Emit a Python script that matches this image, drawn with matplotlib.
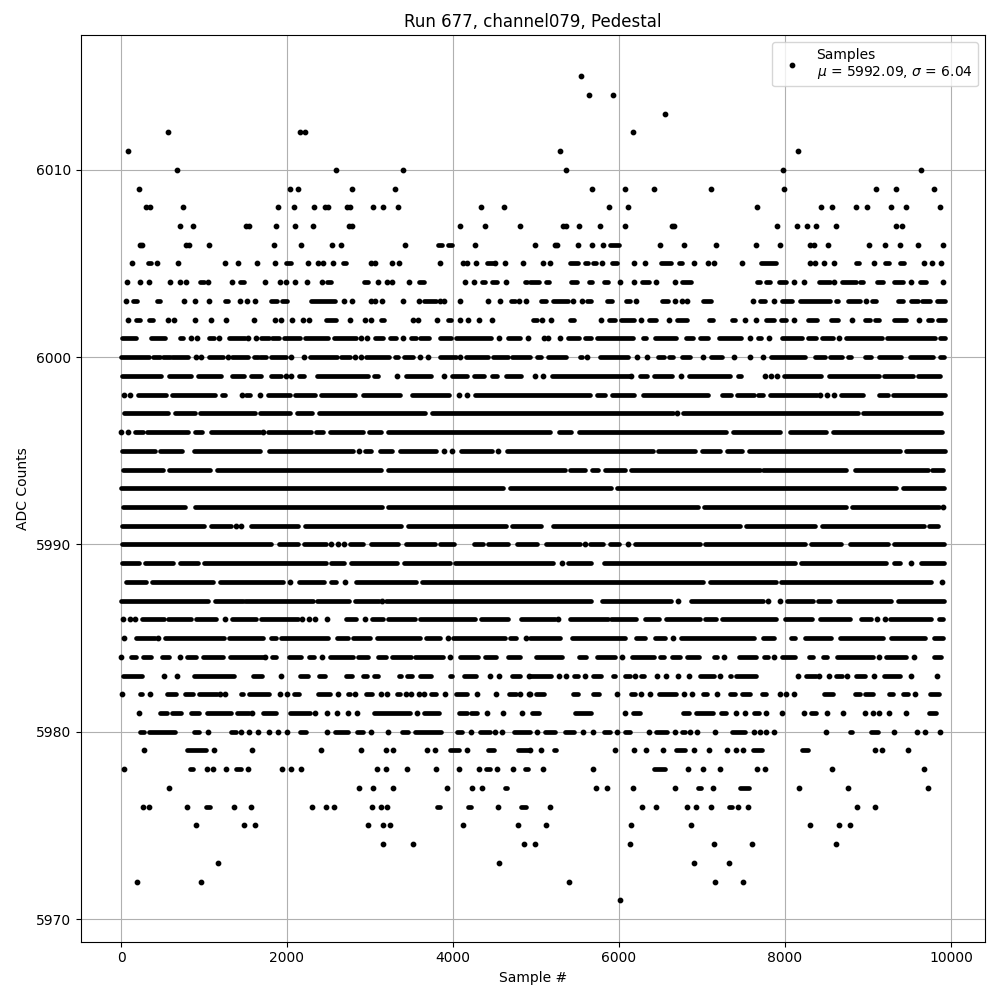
import matplotlib
matplotlib.use("Agg")
import matplotlib.pyplot as plt

# sample positions, one list per ADC level
# a plain number is a single dot, a pair is a stretch where the dots merge into a solid bar
lv_6015 = [5541]
lv_6014 = [5637, 5926]
lv_6013 = [6553]
lv_6012 = [564, 2155, 2215, 6167]
lv_6011 = [82, 5288, 8156]
lv_6010 = [673, 2589, 3397, 5360, 7975, 9638]
lv_6009 = [215, 2035, 2131, 2781, 3299, 5673, 6071, 6420, 7107, 7987, 9096, 9337, 9795]
lv_6008 = [299, 355, 745, 1890, 2083, 2324, 2452, 2492, 2725, 2762, 3035, 3155, 3336, 4336, 4613,
           5878, 6107, 7662, 8433, 8566, 8855, 8987, 9277, 9457, 9867]
lv_6007 = [709, 866, 1508, 1540, 1866, 2095, 2312, 2745, 2786, 4084, 4385, 4806, 5324, 5356, 5517,
           5770, 6071, 6633, 6657, 7903, 8144, 8264, 8373, 8614, 9337, 9409]
lv_6006 = [223, 255, 785, 817, 1059, 1841, 2167, 2541, 2649, 3420, (3814, 3862), (3944, 3985), 4264,
           4986, 5235, 5259, 5504, 5673, 5806, (5886, 5999), 6493, 6782, 7168, 7650, 7939, 8296, 8349,
           8517, 9011, 9204, 9385, 9602, 9903]
lv_6005 = [131, (327, 367), 432, 685, 1251, 1408, 1637, 1854, (1986, 2047), 2252, 2373, 2433, 2553,
           (2673, 2714), 3007, 3059, 3264, 3348, 3842, 4119, 4167, 4276, (4408, 4481), 4505, 4625, 4842,
           5083, 5167, (5404, 5504), (5585, 5625), (5685, 5725), 5794, (5914, 5974), 6179, 6312,
           (6505, 6629), (6722, 6762), 6902, 7071, 7143, 7481, (7706, 7895), 8296, 8361, 8469, 8590,
           (8859, 8891), 9072, (9204, 9252), (9381, 9437), 9674, 9771, 9879]
lv_6004 = [70, 227, 335, 588, 709, 785, (950, 994), 1046, 1336, (1428, 1476), 1733, 1914, 1994, 2095,
           2240, 2421, (2485, 2528), (2922, 2974), 3095, 3203, 3264, 3469, (3585, 3649), 4143, 4252,
           (4352, 4385), (4473, 4529), 4637, (4862, 4895), (4922, 5042), (5115, 5155), (5424, 5492),
           (5637, 5677), (5814, 5870), 6011, 6179, (6276, 6360), 6444, 6673, (6762, 6870), (7662, 7702),
           (7774, 7822), (7923, 8007), 8107, 8228, (8409, 8537), 8590, (8686, 8851), (8907, 8939),
           (9108, 9180), (9309, 9421), 9518, (9630, 9694), 9903]
lv_6003 = [58, (143, 191), (436, 468), 757, 894, 1059, (1251, 1287), 1432, 1516, 1613, (1810, 1878),
           (1934, 2002), (2288, 2577), 2685, 2781, 3007, 3059, 3143, 3397, 3589, (3649, 3798), 3846, 3886,
           4084, 4420, 4565, (4702, 4742), 4794, 4879, (5055, 5115), (5203, 5384), 5444, 5553,
           (5613, 5661), (5858, 5914), (6079, 6127), 6199, (6513, 6589), 6673, 6754, 6818, (7011, 7107),
           7613, (7694, 7758), 7866, (7967, 8087), (8184, 8537), (8618, 8642), (8758, 8899), 8979,
           (9052, 9100), (9361, 9421), (9521, 9602), (9654, 9742), (9831, 9923)]
lv_6002 = [82, (183, 231), (339, 384), 564, 641, 894, 1083, 1263, 1601, 1854, 1926, 2059, 2192, 2264,
           (2465, 2585), 2757, 2941, 3011, (3135, 3167), 3517, 3577, 3806, (3938, 3970), 4084, 4180, 4313,
           4470, (4970, 5018), 5075, 5179, (5404, 5454), 5782, (5878, 5946), (6027, 6175), 6264,
           (6360, 6440), 6601, (6697, 6818), (7083, 7131), (7356, 7392), 7517, 7650, (7774, 7862),
           (7955, 8015), 8107, (8276, 8385), (8557, 8638), 8811, (8959, 9019), (9084, 9132), (9317, 9461),
           9614, (9722, 9771), (9843, 9931)]
lv_6001 = [(14, 175), (364, 536), (705, 753), 841, 914, (1059, 1119), 1179, (1303, 1488), 1528, 1625,
           (1685, 1781), (1818, 1898), (1958, 2151), (2215, 2493), (2569, 2834), 2894, 2958, (3055, 3155),
           (3236, 3308), 3397, (3497, 3549), (3605, 3705), (3846, 3978), (4031, 4461), 4553, (4658, 4810),
           4903, 5091, 5143, 5292, (5384, 5517), (5585, 5665), (5737, 6167), (6288, 6328), (6432, 6689),
           (6810, 6890), (6971, 7071), (7204, 7473), 7573, (7674, 7706), 7806, (7963, 8208), (8276, 8369),
           (8449, 8578), 8650, (8738, 9172), (9228, 9803), (9863, 9923)]
lv_6000 = [(0, 335), (384, 464), (504, 585), (617, 805), 906, 958, (1066, 1227), 1287, (1340, 1528),
           (1601, 1649), (1669, 1749), (1810, 1982), 2047, 2204, (2280, 2601), (2649, 2761), 2818, 2886,
           (2954, 3235), (3296, 3336), (3404, 3517), 3601, 3697, (3838, 4031), 4080, (4160, 4421),
           (4481, 4662), (4714, 4923), (5010, 5063), (5143, 5364), (5525, 5557), 5613, (5766, 6107), 6215,
           6336, (6468, 6537), (6601, 6649), (6762, 6858), 7015, (7111, 7236), 7384, 7577, 7734,
           (7834, 8236), (8357, 8477), (8545, 8690), (8758, 8798), (8959, 9040), (9132, 9401), (9501, 9783),
           (9863, 9915)]
lv_5999 = [(6, 480), (576, 842), (930, 1203), (1340, 1476), (1569, 1685), (1810, 1926), 1986, 2047,
           (2143, 2200), (2364, 2971), (3051, 3091), 3328, (3437, 3734), 3890, (3991, 4168), (4252, 4376),
           (4473, 4529), (4642, 4818), 4994, 5083, (5187, 6127), 6147, (6248, 6336), (6416, 6641), 6750,
           (6842, 7332), (7429, 7469), 7758, 7830, 7903, (7983, 8433), (8529, 9132), (9196, 9542),
           (9606, 9863)]
lv_5998 = [42, 111, (203, 544), (617, 1127), (1215, 1251), 1460, (1508, 1556), 1669, (1773, 2031),
           (2095, 2332), (2408, 2818), (2914, 3356), (3509, 3950), 4071, 4168, (4264, 5645), (5737, 5830),
           (5918, 6183), (6288, 7071), (7244, 7348), (7421, 7621), (7670, 7734), (7814, 8385), 8425, 8505,
           8594, (8674, 8939), (9132, 9240), (9301, 9923)]
lv_5997 = [(34, 564), (649, 886), (954, 1609), (1677, 2039), (2119, 2296), (2384, 3661), (3750, 6649),
           6693, (6770, 8879), (8939, 9883)]
lv_5996 = [2, 82, (163, 263), (315, 805), (886, 978), (1087, 1669), 1709, (1769, 2292), (2344, 2433),
           (2513, 2914), (2994, 3135), (3215, 5163), (5275, 5424), (5516, 7292), (7372, 7943), (8063, 8497),
           (8578, 9895)]
lv_5995 = [(14, 404), (472, 737), (874, 1669), (1781, 2793), 2866, (2934, 3011), (3115, 3268),
           (3364, 3798), 3890, 3987, (4098, 4473), 4545, (4650, 6408), (6468, 6910), (7003, 7212),
           (7300, 7485), (7565, 9381), (9453, 9923)]
lv_5994 = [(22, 504), (577, 1067), (1155, 3129), (3220, 5344), (5412, 5585), (5677, 5745), (5830, 6067),
           (6147, 7694), (7734, 8738), (8839, 9722), (9775, 9903)]
lv_5993 = [(0, 4601), (4690, 5906), (5978, 9341), (9421, 9911)]
lv_5992 = [(22, 777), (890, 3147), (3220, 6950), (7027, 8730), (8810, 9855), 9903]
lv_5991 = [(10, 1006), (1083, 1327), 1380, 1448, (1569, 2135), (2215, 3376), (3457, 4633), (4714, 5063),
           (5203, 7461), (7525, 8361), (8449, 9678), (9734, 9846)]
lv_5990 = [(14, 1809), (1902, 2127), (2207, 2473), 2533, 2617, 2685, (2761, 2914), (3015, 3336),
           (3436, 3778), (3846, 4018), (4248, 4360), (4420, 4662), (4770, 5010), (5115, 5525), 5585,
           (5645, 5806), (5894, 5999), 6107, (6191, 6971), (7031, 8236), (8316, 8678), (8786, 9240),
           (9316, 9915)]
lv_5989 = [(14, 215), (287, 632), (713, 926), (1006, 2473), (2533, 2685), (2773, 3324), (3404, 3958),
           (4020, 5203), 5312, (5384, 5665), (5814, 8115), (8196, 9220), (9316, 9381), 9513, (9642, 9915)]
lv_5988 = [(62, 303), (376, 1107), (1195, 1950), 2039, (2139, 2441), (2533, 2593), 2693, (2834, 3554),
           (3629, 7011), (7099, 7895), (7955, 9762), 9887]
lv_5987 = [(0, 1046), (1135, 1468), (1496, 2312), (2360, 2753), (2818, 3108), 3149, (3195, 5665),
           (5798, 6629), 6710, (6866, 7734), 7794, 7935, (8023, 8336), (8397, 8537), (8638, 9280), (9361, 9915)]
lv_5986 = [22, 103, 163, (255, 524), (564, 846), (906, 1147), 1251, (1340, 1629), (1689, 2131), 2175, 2264,
           2332, 2484, (2713, 2826), 2942, (3027, 3155), (3215, 3537), (3597, 4260), (4340, 4662),
           (4822, 5235), 5263, (5412, 5866), (5906, 6207), (6308, 6481), (6569, 6971), (7031, 7171),
           (7244, 7895), (7995, 8328), (8417, 8778), (8919, 9040), 9108, 9200, (9260, 9762), (9855, 9903)]
lv_5985 = [34, (175, 404), 444, (532, 1235), (1307, 1709), (1810, 1862), (1930, 2493), (2601, 2733),
           (2793, 3003), (3083, 3605), (3678, 3838), 3938, (3998, 4621), (4690, 4762), 4883, (4922, 5292),
           (5436, 6067), (6207, 6308), (6428, 6549), 6649, (6750, 7621), (7734, 7862), (8075, 8115),
           (8236, 8557), (8658, 9180), (9280, 9682), (9791, 9903)]
lv_5984 = [0, (123, 175), (263, 364), (492, 576), 709, (793, 898), (986, 1227), (1316, 1709), 1737,
           (1822, 1870), (2022, 2171), (2260, 2320), 2425, (2513, 2793), (2854, 2974), (3095, 3195),
           (3268, 3497), (3537, 3878), 3963, (4080, 4300), (4380, 4521), (4662, 4810), (5002, 5312),
           (5516, 5597), (5741, 5946), 6035, (6159, 6416), (6489, 6537), (6641, 6730), (6818, 6963),
           (7139, 7180), 7268, (7445, 7646), (7746, 7798), 7866, (7967, 8115), (8288, 8336), (8457, 8505),
           (8626, 9060), 9132, (9220, 9461), 9554, (9791, 9883)]
lv_5983 = [(22, 255), 516, 673, (877, 1356), (1589, 1701), 1926, (2159, 2252), (2384, 2453), (2713, 2785),
           (2914, 2962), (3043, 3099), (3344, 3376), (3445, 3509), (3605, 3738), (3958, 3990), (4127, 4280),
           4445, 4553, (4714, 4810), 4910, (4922, 5183), 5283, 5364, (5456, 5504), 5589, (5685, 5786),
           (5926, 5958), (6067, 6127), 6195, (6268, 6296), 6457, 6565, 6710, 6842, (6979, 7139), 7216,
           (7332, 7352), (7404, 7654), 8156, (8256, 8369), 8409, 8529, (8618, 8690), 8746, (8859, 8959),
           9072, (9188, 9389), 9521, 9831]
lv_5982 = [10, (223, 255), 347, (552, 657), (777, 866), (938, 1155), 1195, 1251, (1444, 1468), (1548, 1789),
           1914, 2003, (2079, 2139), (2372, 2513), 2613, (2733, 2761), 2818, (2954, 3027), 3131, 3203,
           (3324, 3364), 3437, 3497, 3589, 3649, (3738, 3790), 3906, (4031, 4168), 4288, 4517, (4674, 4762),
           4810, 4910, 4930, (5002, 5091), (5444, 5504), (5685, 5758), 5974, (6147, 6195), 6260, 6372,
           (6481, 6690), 6782, 6878, (7011, 7059), 7184, (7340, 7392), (7485, 7573), (7718, 7774), 7939,
           8011, 8107, (8465, 8578), (8847, 8899), (8967, 9060), (9252, 9301), (9421, 9485), 9570, (9742, 9855)]
lv_5981 = [215, (464, 560), (609, 725), (846, 934), (1035, 1327), (1396, 1548), 1577, (1709, 1870),
           (2031, 2272), 2336, 2481, 2601, 2733, 2842, (3043, 3477), 3565, (3646, 3830), (4071, 4168),
           (4220, 4288), 4409, 4601, 4834, (4954, 5034), (5468, 5665), 6075, (6167, 6256), (6770, 6842),
           (6922, 7131), (7232, 7292), 7409, 7517, (7621, 7686), 7770, 7963, 8228, (8316, 8369), 8505, 8698,
           8963, 9060, 9132, 9252, 9457, (9734, 9822)]
lv_5980 = [(223, 275), (343, 645), (874, 938), 1050, (1324, 1380), 1444, 1540, 1649, 1781, 1889, 1998,
           (2159, 2232), 2481, (2581, 2733), (2842, 2914), 3011, 3211, (3388, 3457), (3537, 3858),
           (4047, 4103), 4223, (4328, 4449), 4505, 4589, (4730, 4923), 5010, (5103, 5235), (5348, 5456),
           5565, 5685, (5822, 5886), 5974, (6075, 6127), 6356, (6448, 6577), 6673, (6762, 6790), 6854, 6938,
           7151, (7364, 7513), 7621, 7694, 7770, 7866, 8493, (8778, 8811), (9035, 9124), 9309, 9590, 9686, 9867]
lv_5979 = [275, (793, 1026), 1123, 1577, 2408, 2890, 3192, 3276, 3685, 3782, (3966, 4071), 4168,
           (4420, 4489), (4782, 4903), 4922, 5063, (5223, 5243), 5950, 6179, 6324, 6529, (6690, 6790), 6902,
           7083, 7300, 7409, 7493, (7613, 7726), (8208, 8276), 9084, 9168, 9481]
lv_5978 = [34, (834, 866), 1035, 1107, 1263, (1380, 1448), 1528, 1938, 2047, 2167, 3083, 3192, 3444, 3794,
           4071, 4313, (4393, 4441), 4530, 4722, (4862, 4903), 5083, 5685, (6416, 6553), 6830, 7011, 7216,
           7662, 7758, 8566, 9674]
lv_5977 = [577, 2866, 3035, 3276, 3927, 4228, 4349, (4622, 4650), 5721, 5854, 6167, 6673, (6951, 6991),
           7131, (7453, 7561), 8168, 8758, 9722]
lv_5976 = [263, 335, 793, (1026, 1074), 1360, 1565, 2300, 2468, 2565, 3023, 3131, 3203, (3806, 3846),
           (4180, 4220), 4542, (4822, 4875), 5167, 6276, 6444, 6814, 6926, 7107, (7324, 7360), 7429, 7553,
           8867, 9084]
lv_5975 = [902, 1480, 1613, 2974, 3155, 3240, 4119, 4782, 5119, 6143, 6866, 8300, 8650, 8782]
lv_5974 = [3155, 3517, 4855, 4986, 6131, 7143, 7601, 8614]
lv_5973 = [1167, 4553, 6902, 7324]
lv_5972 = [191, 962, 5396, 7156, 7493]
lv_5971 = [6011]

rows = [(6015, lv_6015), (6014, lv_6014), (6013, lv_6013), (6012, lv_6012), (6011, lv_6011),
        (6010, lv_6010), (6009, lv_6009), (6008, lv_6008), (6007, lv_6007), (6006, lv_6006),
        (6005, lv_6005), (6004, lv_6004), (6003, lv_6003), (6002, lv_6002), (6001, lv_6001),
        (6000, lv_6000), (5999, lv_5999), (5998, lv_5998), (5997, lv_5997), (5996, lv_5996),
        (5995, lv_5995), (5994, lv_5994), (5993, lv_5993), (5992, lv_5992), (5991, lv_5991),
        (5990, lv_5990), (5989, lv_5989), (5988, lv_5988), (5987, lv_5987), (5986, lv_5986),
        (5985, lv_5985), (5984, lv_5984), (5983, lv_5983), (5982, lv_5982), (5981, lv_5981),
        (5980, lv_5980), (5979, lv_5979), (5978, lv_5978), (5977, lv_5977), (5976, lv_5976),
        (5975, lv_5975), (5974, lv_5974), (5973, lv_5973), (5972, lv_5972), (5971, lv_5971)]

dot_x, dot_y = [], []
fig, ax = plt.subplots(figsize=(10, 10))

for level, items in rows:
    for item in items:
        if isinstance(item, tuple):
            ax.hlines(level, item[0], item[1], colors='black', lw=3.4, capstyle='round', zorder=2)
        else:
            dot_x.append(item)
            dot_y.append(level)

ax.plot(dot_x, dot_y, 'k.', ms=6.3, label="Samples\n$\\mu$ = 5992.09, $\\sigma$ = 6.04")

ax.set_title("Run 677, channel079, Pedestal")
ax.set_xlabel("Sample #")
ax.set_ylabel("ADC Counts")
ax.set_xlim(-488, 10410)
ax.set_ylim(5968.8, 6017.2)
ax.grid(True)
ax.legend(loc='upper right')

fig.subplots_adjust(left=0.0805, right=0.985, top=0.965, bottom=0.0585)
plt.savefig("out.png", dpi=100)
